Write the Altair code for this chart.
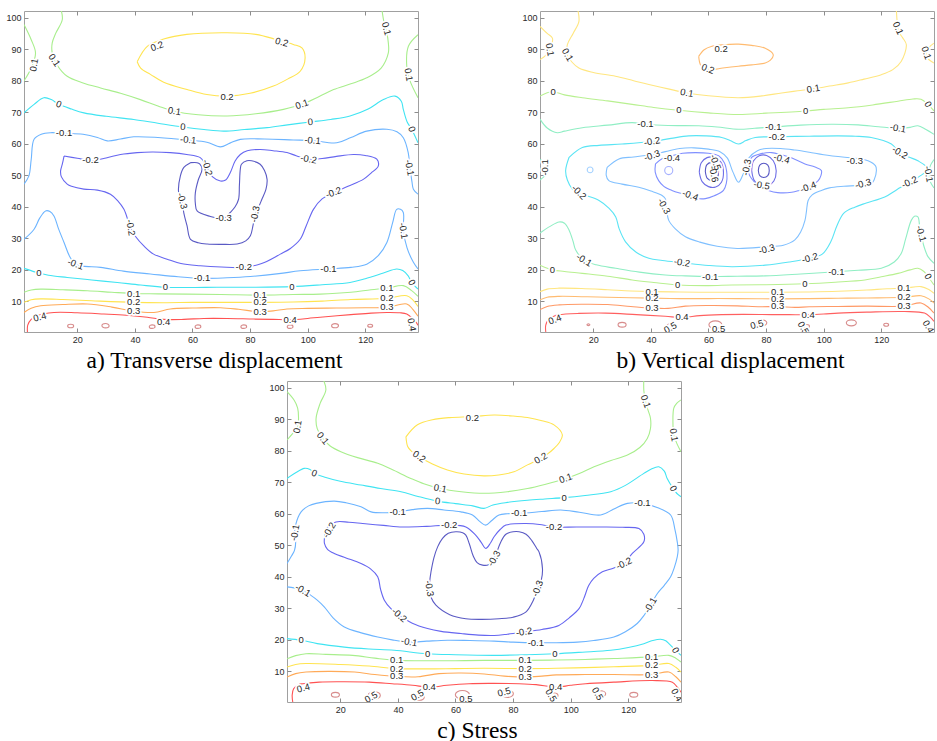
import altair as alt
import pandas as pd

# ---------------- axes / captions ----------------
X_TICKS = [20, 40, 60, 80, 100, 120]
Y_TICKS = [10, 20, 30, 40, 50, 60, 70, 80, 90, 100]
X_DOMAIN = [1.5, 138.3]
Y_DOMAIN = [0.3, 102.1]
LEVELS = ["-0.6", "-0.5", "-0.4", "-0.3", "-0.2", "-0.1", "0", "0.1", "0.2", "0.3", "0.4", "0.5"]
CAPTION_A = "a) Transverse displacement"
CAPTION_B = "b) Vertical displacement"
CAPTION_C = "c) Stress"

# ---------------- panel a: transverse displacement ----------------
a_c02 = [(40.8,86),(44.3,90.9),(50,93.2),(58,94.7),(72,95.2),(82,94.7),(89.3,93),(95,91.5),(98,90.4),(99.1,87.2),(97.4,83),(93,80.5),(88.1,78.3),(80,76),(72,75.1),(65,75.6),(58.1,77.2),(50,79.5),(45.4,82),(42,84),(40.8,86)]
a_c01_l = [(1.5,97.8),(4,93),(5.5,88.8),(4,84),(1.5,79.9)]
a_c01_m = [(14.2,103),(14.8,99.4),(12.5,95),(11.3,92),(11.3,88.8),(13,85),(16.5,81.4),(22,79.3),(28.1,77.7),(35,76),(41.9,74),(48,72),(53.7,70.3),(62,69.2),(72,68.8),(82,69.5),(91.6,70.9),(98,72.5),(104,75),(109,77.2),(115,79),(120.5,80.9),(125.5,84),(128,88.8),(128,92),(127.5,95.1),(126.5,98.5),(125.7,103)]
a_c01_r = [(138.3,94.6),(135,91),(134.4,84.6),(135.5,80),(138.3,74.6)]
a_c0_t = [(1.5,69.8),(5,72.5),(8.4,74.6),(11,74),(13.6,72.5),(18,71),(22.3,69.8),(30,68.7),(39.6,67.7),(48,66.5),(56.7,65.3),(64,64.5),(70.8,64),(78,64.5),(85.9,65.1),(93,66),(100.9,66.9),(108,67.7),(114.7,68.8),(121,71),(126.3,74),(130.3,75.1),(132.5,73.5),(133.2,70.9),(134.5,67),(136.1,64.6),(138.3,60.3)]
a_c0_b = [(1.5,20.5),(6.7,19),(10,18.3),(16.5,17.6),(25,16.8),(33.9,16),(42,15.2),(50.6,14.5),(60,14.4),(68.5,14.5),(80,14.5),(94.5,14.7),(105,15.3),(114.7,16),(120,17.2),(126.3,19),(130.9,20.3),(133,19.8),(134.9,18.1),(136.1,16),(138.3,13.9)]
a_cm01_t = [(1.5,47.2),(3.2,49.8),(4,55),(5,61.4),(7.5,63),(10.7,63.5),(15.4,63.3),(22,63),(27,62),(30.4,60.9),(35,61.5),(39.6,62.2),(48,62),(58.5,61.2),(65,60.5),(69.7,59),(73,60.2),(76.6,61.4),(85,61.5),(95,61.2),(101.7,61),(110.1,60.3),(115,62),(120.5,64),(127.5,64.6),(131,63.8),(133.2,61.9),(134.9,57.2),(135.5,52.4),(136.2,48),(136.7,45.6),(138.3,44)]
a_cm01_b = [(1.5,29.7),(5,32.9),(7,36.5),(9,38.7),(10.5,38.5),(11.9,37.1),(13.5,33),(15.4,28.7),(17.5,24),(19.4,21.8),(22,21.2),(28.1,20.8),(36,19.6),(45.4,18.7),(55,17.8),(63.3,17.3),(72,17.5),(80.1,17.9),(90,18.8),(97.4,19.7),(107.2,20.3),(115,20.8),(120.5,21.8),(124.5,24.5),(127.5,28.7),(129.5,35),(130.9,39.2),(132.2,39.2),(133.2,38.2),(133.2,32.4),(134.5,27),(136.7,22.4),(138.3,20.3)]
a_cm02 = [(15.4,56.1),(20,55.4),(24.6,54.7),(30,55.5),(35,56.6),(40.8,57.2),(46,57.4),(52.3,57.2),(58,56.6),(62.7,55.6),(64.5,53.5),(65.1,52.4),(67,49.5),(69.7,48.2),(71.5,48.5),(73.1,50.8),(74.8,54.5),(76.6,56.6),(79,57.8),(83.5,58.2),(88,57.8),(92.8,57.2),(96,56.2),(100.3,55.1),(105,55.3),(110,56),(115.9,56.6),(120,56.3),(124,55.1),(124.5,52.9),(122,50.7),(119.3,48.7),(114,46.5),(109,44.5),(105,42.5),(102,39.2),(99.5,34),(97.4,29.7),(94,26.8),(90.5,25),(84,22),(77.8,20.8),(70,20.9),(62.7,21.3),(56,22),(51.2,23.4),(46.5,25),(43.1,27.6),(40.3,30.5),(38.5,33.4),(36.2,39.2),(34,42),(31.5,44),(27,45.3),(22.3,45.6),(18,46.5),(16.5,47.2),(14.5,49.5),(14.2,51.4),(14.8,53.5),(15.4,56.1)]
a_cm03 = [(59.3,54),(57,52.5),(55.8,49.8),(55.2,44.5),(56.4,41.9),(57,38),(58.1,34),(59.3,29.7),(62,28.6),(65.1,28.2),(70,28.1),(75.5,28.2),(78.5,29.2),(80.1,30.8),(81,34),(81.8,37.7),(83,40),(84.1,42.4),(85.5,45.5),(85.9,48.7),(85,51.5),(83.5,53.5),(80.5,54.6),(78.9,54.6),(77,53.5),(76.6,51.9),(76.3,47),(76,42.4),(74.8,40),(73.1,38.2),(70.8,36.3),(66,37),(61.6,38.7),(61,41),(61,44.5),(62,48.5),(63.3,51.9),(62.5,53.6),(61.6,54),(59.3,54)]
a_p01 = [(1.5,12.9),(4,13.6),(7.3,13.9),(15,13.7),(23.5,13.4),(32,12.9),(39.6,12.5),(48,12.4),(58.1,12.3),(70,12.2),(83.5,12),(95,12.2),(104.3,12.3),(115,12.9),(122,13.7),(127.5,14.2),(133.2,15),(136,13.5),(138.3,11.6)]
a_p02 = [(1.5,9.7),(4,10.5),(7.3,10.8),(15,10.6),(25,10.2),(39.6,9.7),(50,9.6),(60,9.7),(70,9.7),(83.5,9.7),(95,9.8),(105,10.1),(115,10.6),(127.5,11),(134.4,11.8),(136.5,10.5),(138.3,8.4)]
a_p03 = [(1.5,6.5),(4,7.8),(7.3,8.6),(15,9),(23.5,9.2),(32,8.2),(39.6,6.9),(46.6,6.5),(52.3,7.6),(60,7.9),(69.7,8),(76,7.5),(83.5,6.7),(88,7),(92.8,7.6),(100,7.8),(110,7.9),(120,8),(127.5,8.1),(134.4,9.2),(136.5,7.5),(138.3,5.3)]
a_p04 = [(2.7,0.3),(2.8,2.5),(4,4.3),(6.1,5.5),(11.9,6.5),(20,6.4),(29.2,6),(37,5.6),(44.3,5),(50,4.3),(57,4.3),(63.9,4.6),(72,4.6),(81.2,4.4),(88,4.3),(93.9,4.2),(100,4.6),(104.3,5),(115,5.8),(122,6.3),(127.5,6.5),(132,6.4),(134.4,6),(136.5,4.5),(137.8,3.2),(138.3,2.4)]
A_CONTOURS = [("0.2", a_c02), ("0.1", a_c01_l), ("0.1", a_c01_m), ("0.1", a_c01_r),
              ("0", a_c0_t), ("0", a_c0_b), ("-0.1", a_cm01_t), ("-0.1", a_cm01_b),
              ("-0.2", a_cm02), ("-0.3", a_cm03),
              ("0.1", a_p01), ("0.2", a_p02), ("0.3", a_p03), ("0.4", a_p04)]
A_LOOP_X = [17.7, 29.8, 46, 61.9, 77.8, 93.9, 109.5, 121.7]
A_LOOP_Y = [2.2, 2.3, 2.0, 2.0, 2.0, 2.0, 2.3, 2.3]
A_LOOP_W = [2.1, 2.5, 2.0, 2.0, 2.0, 2.0, 2.4, 1.7]
A_LABELS = [("0.2",47.7,90.9,340),("0.2",91,92.2,15),("0.2",72,74.7,0),
            ("0.1",5,85,280),("0.1",12,86.5,55),("0.1",53.7,70.3,8),("0.1",98,72.5,340),("0.1",127.3,96.5,75),("0.1",135,81.9,80),
            ("0",13.6,72.5,20),("0",56.7,65.3,5),("0",100.9,66.9,355),("0",136.1,64.6,70),
            ("-0.1",15.4,63.3,0),("-0.1",58.5,61.2,5),("-0.1",101.7,61,5),("-0.1",135.3,52.4,80),
            ("-0.2",24.6,54.7,0),("-0.2",65.1,52.4,75),("-0.2",100.3,55.1,10),("-0.2",109,44.5,340),("-0.2",38.5,33.4,80),("-0.2",77.8,20.8,0),
            ("-0.3",56.4,41.9,75),("-0.3",70.8,36.3,0),("-0.3",81.8,37.7,280),
            ("-0.1",19.4,21.8,20),("-0.1",63.3,17.3,0),("-0.1",107.2,20.3,0),("-0.1",133.2,32.4,80),
            ("0",6.7,19,0),("0",50.6,14.5,0),("0",94.5,14.7,0),("0",136.1,16,60),
            ("0.1",39.6,12.5,0),("0.1",83.5,12,0),("0.1",127.5,14.2,0),
            ("0.2",39.6,9.7,0),("0.2",83.5,9.7,0),("0.2",127.5,11,0),
            ("0.3",39.6,6.9,0),("0.3",83.5,6.7,0),("0.3",127.5,8.1,0),
            ("0.4",7,5,345),("0.4",50,3.4,0),("0.4",93.9,4.2,0),("0.4",136.1,2.6,80)]

# ---------------- panel b: vertical displacement ----------------
b_c02 = [(56.6,87.7),(58.5,89.8),(61.2,90.9),(65,91.4),(70.4,91.6),(75,91.2),(79.7,90.3),(82.5,88.2),(81.5,86.5),(79.7,85.6),(75,85),(70.4,84.6),(65,84),(61.2,83.5),(58.5,84),(57.2,85.1),(56.6,87.7)]
b_c01_l = [(1.5,97.2),(4,95),(5.8,93.5),(5.5,91),(4.9,89.8),(3.5,88),(1.5,86.7)]
b_c01_m = [(14.5,103),(15,98.7),(13,95),(11,91.4),(11,88.2),(12.5,86),(15,84),(20,82.6),(27.7,81.4),(34,80),(39.3,78.8),(46,77.4),(52.5,76.1),(60,75.2),(70.4,74.6),(78,75.1),(85.4,76.1),(91,76.8),(96.4,77.4),(102,78.3),(108.5,79.3),(114,80.5),(120,81.9),(124,83.5),(126.9,86.1),(128.7,91.4),(127.5,93.5),(126.4,95),(125.8,96.6),(125.2,103)]
b_c01_r = [(138.3,91.9),(136.5,90.5),(135.6,88.8),(136.2,87),(138.3,85.6)]
b_c0_t = [(1.5,75.1),(4,76.2),(6.1,76.5),(10,75.5),(16.2,74.6),(25,73.6),(33.5,72.5),(41,71.5),(49.7,70.6),(60,69.8),(70.4,69.3),(80,69.7),(93.7,70.4),(100,70.9),(108.5,71.4),(117,72.3),(125.8,73.5),(131,74.2),(133.8,74.1),(136.2,72.5),(138.3,70.4)]
b_c0_b = [(1.5,21.5),(5.8,20),(10,19.5),(16.2,18.9),(25,18),(33.5,16.8),(41,16),(49.3,15.2),(60,15),(68.1,15.2),(80,15.3),(93.5,15.6),(104,16.1),(114.3,16.8),(120,17.8),(125.8,18.9),(130,20),(132.7,20.5),(134.8,19.5),(136.2,17.9),(138.3,15.2)]
b_cm01_t = [(1.5,67.8),(4,65),(7.5,63.5),(10,64),(16.2,65.1),(25,65.9),(33.5,66.7),(38.1,66.2),(46,65.8),(56.6,65.7),(63,65.3),(70.4,64.6),(76,64.9),(82.5,65.3),(92,65.9),(102.7,66.2),(112,66),(119,65.4),(125.8,64.9),(130,65.2),(132.7,65.7),(135.5,64.5),(138.3,63)]
b_cm01_l = [(1.5,55),(3.2,54),(4,52.5),(3.8,50.5),(2.8,49.5),(1.5,48.5)]
b_cm01_r = [(138.3,55),(137,53),(136.5,50.4),(137,48),(138.3,46)]
b_cm01_b = [(1.5,31.7),(5,33.8),(8.1,35.2),(10,34.8),(11.6,32.6),(13,29),(13.9,26.3),(16.8,23.1),(21,21.6),(27.8,20.5),(36,19.3),(45,18.4),(52,18.1),(60.6,17.9),(70,18),(79.7,18.1),(92,18.7),(104.4,19.4),(112,19.9),(120,20.5),(124.5,22.5),(126.9,25.2),(128.5,30),(130.4,35.7),(131.5,37),(132.7,36.8),(133.3,34),(133.8,31.5),(134.8,27.5),(136.2,24.2),(138.3,22.1)]
b_cm02 = [(11.6,55.7),(16.2,58.8),(22,59.5),(30,59.9),(40.4,60.7),(47,61.7),(53.1,62.5),(59,62.5),(64.6,62),(67.5,61),(70.4,59.9),(73,61),(76.2,62),(83.7,62.2),(95,62.4),(105,62.5),(111,62.4),(116.5,62),(123.5,59.9),(126.4,57.2),(129.5,55.8),(132.7,54.6),(136.2,52),(133,49.5),(129.8,47.8),(125.5,45.5),(121.2,43.1),(114.8,41.2),(110.8,39.9),(107,38),(104.6,34),(102.5,29),(99.5,25),(95.2,23.7),(88,22.5),(79.7,21.5),(68.1,21),(60,21.4),(50.8,22.3),(44,23),(39.3,23.7),(35,25.5),(31.2,28.9),(29,33),(27.8,36.8),(25.5,39.5),(22,42),(18,43.4),(15.1,44.1),(12.7,45.7),(11,48.5),(10.4,51.5),(11.6,55.7)]
b_cm03 = [(24.8,52.5),(28.9,55.2),(34,55.8),(40,56.5),(45,57.5),(50,58.5),(55,58.7),(60,58.3),(64,57.5),(66.5,55.5),(68.5,51),(70.4,47.8),(72.3,51),(74,55.5),(77,57.8),(80,58.5),(85,58.5),(90,58),(95,57.3),(100,56.5),(107.3,55.7),(112,55.3),(115.4,54.6),(118,53),(118.3,51.5),(117.5,48.5),(116.5,47.3),(112,46.8),(107,46.5),(102,46),(99.2,45.2),(96,43.8),(94.6,42),(94,38.5),(93.5,35.7),(92,32),(90,29.5),(86,27.8),(79.7,27.3),(70,26.8),(63,27.5),(57,28.8),(52,30.5),(48.5,33),(46.2,35.7),(45.5,39),(45,42.6),(43.9,43.6),(40,45),(35.8,46.2),(30,47.2),(25.4,48.3),(24.5,50),(24.8,52.5)]
b_cm04_l = [(41.6,53.6),(44,55.3),(47.3,56.2),(51,57),(55.4,57.2),(60,57),(63.5,56.2),(65.5,54),(66.4,50.4),(66.2,47.5),(65.2,45.2),(62,43.5),(58.9,42.6),(56,42.7),(53.7,43.6),(50,44.4),(47.3,45.2),(44.5,46.5),(42.7,48.3),(41.5,51),(41.6,53.6)]
b_cm04_r = [(73.9,52.5),(75,55.7),(78,56.8),(81.9,57.2),(85.4,56.5),(89,55.5),(93.5,53.6),(97,52.6),(99.2,51.5),(99,49.8),(98.1,48.3),(96,46.9),(94.6,46.2),(91.5,45.2),(88.9,44.6),(84,44.5),(80.8,45.2),(77.5,46.5),(75,48.9),(74,50.5),(73.9,52.5)]
b_cm05_l = [(56.8,51),(57.5,54),(59.5,55.6),(62,55.7),(64.3,54.2),(65.2,51),(64.5,47.8),(62.5,46.3),(60,46.4),(57.8,48),(56.8,51)]
b_cm06_l = [(58.9,51.2),(59.4,53.3),(61,54.1),(62.8,53.4),(63.5,51.2),(62.9,49),(61.2,48.3),(59.6,49),(58.9,51.2)]
b_cm05_r = [(75,51.5),(75.6,54.5),(77.6,56.2),(80.2,56.3),(82.5,54.6),(83.5,51.5),(82.7,48.2),(80.5,46.6),(77.8,46.6),(75.8,48.5),(75,51.5)]
b_cm06_r = [(77.3,51.5),(77.8,53.2),(79.2,53.8),(80.6,53.2),(81.1,51.5),(80.6,49.9),(79.2,49.3),(77.8,49.9),(77.3,51.5)]
b_p01 = [(1.5,13.1),(4,13.9),(8.1,14.2),(16,14.1),(25,13.7),(33,13.3),(40.4,13.1),(50,13),(60,12.9),(70,12.9),(84,12.9),(95,13),(105,13.2),(115,13.6),(122,14),(127.9,14.2),(133.8,14.7),(136.5,13.8),(138.3,12.6)]
b_p02 = [(1.5,10.5),(4,11.3),(8.1,11.6),(16,11.5),(25,11.3),(40.4,11.05),(50,10.9),(60,10.9),(70,10.9),(84,10.8),(95,10.9),(105,11),(115,11.1),(127.9,11.3),(133.8,11.8),(136.5,10.8),(138.3,9.5)]
b_p03 = [(1.5,7.4),(4,8.4),(8.1,8.9),(16,9.1),(25,9),(33,8.4),(40.4,7.9),(46,7.8),(52,8.5),(60,8.7),(70,8.6),(78,8.3),(84,8.4),(90,8.1),(95,8.3),(105,8.4),(115,8.5),(127.9,8.5),(133.8,9.5),(136.5,8),(138.3,6.3)]
b_p04 = [(3.5,0.3),(3.5,2.5),(4.5,4.3),(6.5,5.4),(8.1,5.8),(15,6.2),(24.3,6.3),(35,5.8),(45,5.3),(50.8,4.9),(57,5.5),(64.6,5.8),(72,5.9),(81.9,5.8),(88,5.8),(94.6,5.8),(100,6),(105,6.3),(115,6.6),(128.1,6.8),(135,6.3),(137,5),(138.3,3.7)]
B_CONTOURS = [("0.2", b_c02), ("0.1", b_c01_l), ("0.1", b_c01_m), ("0.1", b_c01_r),
              ("0", b_c0_t), ("0", b_c0_b), ("-0.1", b_cm01_t), ("-0.1", b_cm01_l), ("-0.1", b_cm01_r), ("-0.1", b_cm01_b),
              ("-0.2", b_cm02), ("-0.3", b_cm03), ("-0.4", b_cm04_l), ("-0.4", b_cm04_r),
              ("-0.5", b_cm05_l), ("-0.6", b_cm06_l), ("-0.5", b_cm05_r), ("-0.6", b_cm06_r),
              ("0.1", b_p01), ("0.2", b_p02), ("0.3", b_p03), ("0.4", b_p04)]
B_LOOP_X = [18.3, 30, 47.3, 62.4, 78.5, 94, 109.6, 121.7]
B_LOOP_Y = [2.6, 2.6, 2.1, 2.6, 3.2, 2.1, 3.2, 2.6]
B_LOOP_W = [1.0, 2.8, 3.5, 4.5, 3.5, 2.1, 3.5, 1.7]
B_RING_LEVEL = ["-0.3", "-0.4"]
B_RING_X = [18.9, 46.2]
B_RING_Y = [51.7, 51.5]
B_RING_W = [2.0, 2.8]
B_LABELS = [("0.2",64.4,90.1,0),("0.2",59.8,83.7,20),
            ("0.1",4.9,89.8,80),("0.1",11,88.2,60),("0.1",52.5,76.1,10),("0.1",96.4,77.4,350),("0.1",125.8,96.6,65),("0.1",135.6,88.8,70),
            ("0",6.1,76.5,0),("0",49.7,70.6,0),("0",93.7,70.4,0),("0",136.2,72.5,60),
            ("-0.1",38.1,66.2,0),("-0.1",82.5,65.3,0),("-0.1",125.8,64.9,10),("-0.1",3.3,52.5,270),("-0.1",136.4,50.4,80),
            ("-0.2",40.4,60.7,350),("-0.2",83.7,62.2,0),("-0.2",126.4,57.2,30),("-0.2",129.8,47.8,335),("-0.2",15,44.6,45),("-0.2",50.8,22.3,10),("-0.2",95.2,23.7,345),
            ("-0.3",40.4,56.2,340),("-0.3",73.3,52.5,280),("-0.3",110.8,54.6,0),("-0.3",113.7,47.3,345),("-0.3",44.5,40.2,60),("-0.3",80.2,26.5,345),
            ("-0.4",47.3,55.4,0),("-0.4",53.7,43.6,20),("-0.4",85.4,55.2,15),("-0.4",94.6,46.2,340),
            ("-0.5",62.4,54.1,70),("-0.6",61.8,50.4,80),("-0.5",78.5,46.8,10),
            ("-0.1",16.8,23.1,30),("-0.1",60.6,17.9,0),("-0.1",104.4,19.4,0),("-0.1",133.8,31.5,75),
            ("0",5.8,20,0),("0",49.3,15.2,0),("0",93.5,15.6,0),("0",136.2,17.9,60),
            ("0.1",40.4,13.1,0),("0.1",84,12.9,0),("0.1",127.9,14.2,0),
            ("0.2",40.4,11.05,0),("0.2",84,10.8,0),("0.2",127.9,11.3,0),
            ("0.3",40.4,7.9,0),("0.3",84,8.4,0),("0.3",127.9,8.5,0),
            ("0.4",6.7,4.2,340),("0.4",50.8,4.9,0),("0.4",94.6,5.8,0),("0.4",136.3,2.0,60),
            ("0.5",46.8,1.6,330),("0.5",63.5,1.1,0),("0.5",76.8,2.6,345),("0.5",92.9,1.6,60)]

# ---------------- panel c: stress ----------------
c_c02 = [(42.8,84.4),(46.8,88.2),(52,89.8),(58,90.5),(65.9,90.8),(73.4,91.3),(80,91),(85,90.5),(90,89.5),(94.2,88.2),(97.1,85),(96,82.5),(94.2,80.7),(92,79),(89.6,77.6),(85,75.5),(80.3,73.3),(75,72.3),(69.9,72),(63,72.6),(57.2,73.9),(52,75.8),(47.4,78.1),(44.5,80),(43.4,81.3),(42.8,84.4)]
c_c01_l = [(1.5,98.7),(4,96),(5.2,93.5),(5.5,90.5),(5.2,87.6),(3.5,85.5),(1.5,83.4)]
c_c01_m = [(13.9,103),(15,99.3),(13,95),(11.6,90.3),(12,87),(13.9,83.9),(16.5,81.5),(20.2,79.7),(26,77.8),(33,76),(38,74),(44.5,71.2),(49,69.5),(54.7,68),(62,67),(69.9,66.5),(78,67),(85,68),(91,69.3),(98.3,71.2),(103,72.8),(108.1,74.9),(114,76.9),(119.7,78.6),(124,81),(126.6,83.9),(127.7,87),(127.7,90.3),(126.8,93),(126,95.6),(125.4,99),(125.4,103)]
c_c01_r = [(138.3,96.1),(136.8,95),(135.8,93.5),(135.5,89),(135.8,85),(137,82),(138.3,79.7)]
c_c0_t = [(1.5,71.2),(4.5,73),(7.5,74.4),(9.5,74),(11,72.8),(15,71.5),(20,70.3),(27.2,69.1),(34,68),(41.1,67),(47,65.5),(53.8,64),(60,63.2),(66,62.5),(69.9,61.7),(73,62.8),(78,63.6),(85,64.3),(91,64.7),(97.7,65.1),(105,65.8),(113.9,67),(119,69),(125.4,72.8),(128,74.2),(130.6,74.9),(132.5,73.5),(133.5,71.2),(135.6,68),(136.8,66.5),(138.3,65.4)]
c_c0_b = [(1.5,20.4),(6.4,19.9),(12,18.8),(21.4,17.7),(30,17.1),(38.7,16.7),(50.3,15.6),(60,15.3),(73.4,15.1),(85,15.3),(94.5,15.6),(104,16.1),(113.9,16.7),(120,17.6),(125.4,18.8),(128.5,19.8),(131.2,20.2),(133,19.7),(134.1,18.8),(136.4,16.7),(138.3,15.1)]
c_cm01 = [(1.5,44.2),(3,46.5),(4.1,48.4),(4.5,51),(4.1,53.2),(4.5,56.5),(6.4,60.6),(9,62.5),(11.6,63.3),(17.9,64),(22,63.5),(27.2,62.2),(30.7,60.6),(35,60.3),(39.9,60.6),(45,61.3),(50.3,61.7),(56,61.2),(61.9,60.6),(65.9,59.6),(68.5,57.5),(70.5,56.4),(72.5,57.8),(75.1,59.6),(78,60),(82.1,60.1),(90,60.7),(96.5,61.2),(103,60.5),(110.4,59.6),(115,61.5),(119.7,63.3),(124.9,63.3),(130,62),(134.7,59.6),(136.2,55),(137,51.1),(137.3,48.5),(137,46.3),(136,43),(134.7,40),(132.5,37.3),(130.1,34.7),(127.7,31),(125.5,27.8),(123.1,25.2),(119,22.6),(115,20.9),(108,19.8),(102.3,19.3),(95,19.1),(87.9,19.1),(80,19.3),(73.4,19.6),(65,19.8),(57.2,19.9),(50,19.6),(43.9,19.3),(38,20),(33,20.9),(27,22.3),(21.4,24.1),(17.5,27),(14.5,30.4),(12,32.6),(9.8,34.1),(7,35.7),(4,36.5),(1.5,36.8)]
c_cm02 = [(14.5,52.2),(15.5,55.5),(18.5,57.4),(23,57.3),(27.8,56.9),(35,56.3),(41.6,55.8),(50,56),(57.8,56.4),(63.6,55.8),(67,53.2),(68.8,51.1),(70.5,49),(72.2,50.8),(73.4,52.7),(75.5,55),(77.5,56.4),(84.4,56.9),(90,56.5),(94.2,55.8),(102,55.8),(111,55.8),(118,55.7),(123.7,55.3),(125.4,53.5),(125.4,51.1),(121.4,47.4),(118.5,44.2),(115,42.8),(111,41.6),(108,39.5),(106.3,37.3),(104.5,33),(102.9,29.9),(99.5,27),(95.9,24.6),(90,23.3),(83.8,22.5),(78,21.8),(73.4,21.4),(68,21.5),(61.9,22),(55,22.7),(50.3,23.6),(45,25.3),(40.5,27.8),(37.5,30),(35.3,32.6),(34,36),(33,40),(30.5,42.5),(27.2,44.2),(22,46),(17.9,47.4),(15.5,48.8),(14.5,50.6),(14.5,52.2)]
c_cm03 = [(51.5,41.6),(52.5,46),(53.8,49.5),(55.5,52.2),(57.5,53.8),(60.1,54.3),(62.5,54),(63.6,53.2),(64.8,50.5),(66.2,46.5),(67.5,44.5),(69.4,43.7),(71.5,43.8),(72.8,44.8),(74.2,47.5),(75.7,51),(77.5,53.5),(80,54.3),(82.1,54.3),(84.5,53.5),(86.5,51.5),(88.2,49),(89,47.9),(90.2,42.6),(89.8,39),(88.5,36.3),(87,32.5),(84.4,28.8),(80,27.2),(75.1,26.7),(69,26.5),(63.6,26.7),(58,28),(53.2,31),(51.5,33.5),(50.9,36.3),(51.1,39),(51.5,41.6)]
c_p01 = [(1.5,14),(4.5,15),(8.1,15.6),(15,15.4),(24.3,15.1),(32,14.2),(39.6,13.5),(50,13.4),(60,13.4),(70,13.5),(84.2,13.5),(95,13.6),(105,13.8),(115,14.1),(128.1,14.6),(134.1,15.1),(136.5,14.2),(138.3,13)]
c_p02 = [(1.5,11.4),(4.5,12.2),(8.1,12.5),(20,12.2),(30,11.7),(39.6,10.9),(50,10.8),(60,10.9),(70,11),(84.2,10.9),(95,11),(105,11.2),(115,11.5),(128.1,11.9),(134.1,12.5),(136.5,11.3),(138.3,9.8)]
c_p03 = [(1.5,8.2),(4.5,9.3),(8.1,9.8),(16,10),(25,9.8),(32,9),(39.6,8.4),(47,8.3),(54.3,9.3),(62,9.5),(70,9.2),(77,8.5),(84.2,8.2),(90,8.5),(95,8.9),(105,9),(115,9),(128.1,9),(134.1,9.8),(136.5,8.3),(138.3,6.6)]
c_p04 = [(3.5,0.3),(3.3,2.5),(3.8,4.5),(5.5,5.8),(7,6.1),(12.7,6.6),(20,6.7),(30.1,6.6),(38,6.1),(45.1,5.6),(50.9,5),(57,5.6),(64.7,6.1),(72,6.2),(82.1,6.1),(88,5.8),(94.8,5),(100,5.6),(105.2,6.1),(115,6.6),(128.3,7.1),(135.3,6.6),(137,5),(138.3,3.4)]
C_CONTOURS = [("0.2", c_c02), ("0.1", c_c01_l), ("0.1", c_c01_m), ("0.1", c_c01_r),
              ("0", c_c0_t), ("0", c_c0_b), ("-0.1", c_cm01), ("-0.2", c_cm02), ("-0.3", c_cm03),
              ("0.1", c_p01), ("0.2", c_p02), ("0.3", c_p03), ("0.4", c_p04)]
C_LOOP_X = [18.3, 31.8, 47.4, 62.4, 78, 94.2, 110.4, 121.9]
C_LOOP_Y = [2.6, 2.4, 1.8, 2.6, 2.9, 2.4, 2.9, 2.6]
C_LOOP_W = [2.8, 4.2, 3.5, 4.9, 4.2, 2.8, 3.5, 2.8]
C_LABELS = [("0.2",65.9,90.5,0),("0.2",89.6,77.6,330),("0.2",47.4,78.1,35),
            ("0.1",5.2,87.6,280),("0.1",13.9,83.9,50),("0.1",54.7,68,10),("0.1",98.3,71.2,340),("0.1",126,95.6,70),("0.1",135.8,85,80),
            ("0",11,72.8,20),("0",53.8,64,5),("0",97.7,65.1,0),("0",135.6,68,60),
            ("-0.1",39.9,60.6,0),("-0.1",82.1,60.1,0),("-0.1",124.9,63.3,0),("-0.1",4.3,54,280),("-0.1",127.7,31,300),
            ("-0.1",87.9,19.1,0),("-0.1",43.9,19.3,10),("-0.1",7,35.7,30),
            ("-0.2",16.2,54.8,300),("-0.2",57.8,56.4,0),("-0.2",94.2,55.8,0),("-0.2",118.5,44.2,335),("-0.2",83.8,22.5,350),("-0.2",40.5,27.8,40),
            ("-0.3",73.4,45.8,300),("-0.3",88.5,36.3,290),("-0.3",50.9,36.3,80),
            ("0",6.4,19.9,0),("0",50.3,15.6,0),("0",94.5,15.6,0),("0",136.4,16.7,60),
            ("0.1",39.6,13.5,0),("0.1",84.2,13.5,0),("0.1",128.1,14.6,0),
            ("0.2",39.6,10.9,0),("0.2",84.2,10.9,0),("0.2",128.1,11.9,0),
            ("0.3",39.6,8.4,0),("0.3",84.2,8.2,0),("0.3",128.1,9,0),
            ("0.4",7.2,4.7,345),("0.4",50.9,5,0),("0.4",94.8,5,0),("0.4",136.8,2.5,60),
            ("0.5",30.7,1.8,330),("0.5",46.8,2.4,330),("0.5",63.6,1.3,0),("0.5",76.9,3.4,345),("0.5",93.1,2.4,60),("0.5",109.3,2.9,60)]

# ---------------- colours (jet-like) ----------------
COLORS_AC = {"-0.3": "#5a5ac4", "-0.2": "#6666f0", "-0.1": "#6cb4ff", "0": "#40e4f2",
             "0.1": "#a8ee8c", "0.2": "#ffe450", "0.3": "#ffaa58", "0.4": "#ff5252", "0.5": "#c85c5c"}
COLORS_B = {"-0.6": "#5858c4", "-0.5": "#6e6ee6", "-0.4": "#8090ff", "-0.3": "#80c0ff",
            "-0.2": "#5ae4f4", "-0.1": "#90eec4", "0": "#b8f090", "0.1": "#ffe680",
            "0.2": "#ffbb70", "0.3": "#ff9966", "0.4": "#ff6060", "0.5": "#c85c5c"}

ELLIPSE = "M -1 0 A 1 0.6 0 1 0 1 0 A 1 0.6 0 1 0 -1 0 Z"
PX_PER_UNIT = 2.88
SERIF = "Times New Roman, Liberation Serif, Tinos, DejaVu Serif, serif"
SANS = "Arial, Liberation Sans, Helvetica, sans-serif"


def make_panel(contours, loop_x, loop_y, loop_w, labels, colors, caption,
               ring_level=None, ring_x=None, ring_y=None, ring_w=None):
    rows = []
    for cid, (lvl, pts) in enumerate(contours):
        for i, (x, y) in enumerate(pts):
            rows.append({"x": x, "y": y, "level": lvl, "cid": cid, "ord": i})
    df_lines = pd.DataFrame(rows)
    df_loops = pd.DataFrame({"x": loop_x, "y": loop_y, "w": loop_w, "level": ["0.5"] * len(loop_x)})
    df_lab = pd.DataFrame([{"x": x, "y": y, "t": t, "angle": a} for (t, x, y, a) in labels])

    dom = [l for l in LEVELS if l in colors]
    color = alt.Color("level:N", scale=alt.Scale(domain=dom, range=[colors[l] for l in dom]), legend=None)
    size = alt.Size("w:Q", scale=alt.Scale(type="pow", exponent=2, domain=[0, 5],
                                           range=[0, (5 * PX_PER_UNIT) ** 2]), legend=None)
    xs = alt.Scale(domain=X_DOMAIN, nice=False, zero=False)
    ys = alt.Scale(domain=Y_DOMAIN, nice=False, zero=False)
    common = dict(domain=False, grid=False, ticks=True, tickSize=4, offset=-4,
                  tickColor="#8c8c8c", tickWidth=1)
    lab = dict(labelFont=SANS, labelFontSize=9, labelColor="#2a2a2a", labelPadding=3)
    ax_b = alt.Axis(orient="bottom", values=X_TICKS, title=caption, titleFont=SERIF,
                    titleFontSize=23.5, titleFontWeight="normal", titleColor="#000000",
                    titlePadding=4, titleX=190, **lab, **common)
    ax_l = alt.Axis(orient="left", values=Y_TICKS, title=None, **lab, **common)
    ax_t = alt.Axis(orient="top", values=X_TICKS, labels=False, title=None, **common)
    ax_r = alt.Axis(orient="right", values=Y_TICKS, labels=False, title=None, **common)

    lines = alt.Chart(df_lines).mark_line(strokeWidth=1.1, clip=True, interpolate="catmull-rom").encode(
        x=alt.X("x:Q", scale=xs, axis=ax_b),
        y=alt.Y("y:Q", scale=ys, axis=ax_l),
        color=color, detail="cid:N", order="ord:Q")
    loops = alt.Chart(df_loops).mark_point(shape=ELLIPSE, filled=False, strokeWidth=1.1, clip=True).encode(
        x=alt.X("x:Q", scale=xs, axis=ax_t),
        y=alt.Y("y:Q", scale=ys, axis=ax_r),
        color=color, size=size)
    layers = [lines, loops]
    if ring_x:
        df_ring = pd.DataFrame({"x": ring_x, "y": ring_y, "w": ring_w, "level": ring_level})
        rings = alt.Chart(df_ring).mark_point(shape="circle", filled=False, strokeWidth=1.1, clip=True).encode(
            x=alt.X("x:Q", scale=xs, axis=None), y=alt.Y("y:Q", scale=ys, axis=None),
            color=color, size=size)
        layers.append(rings)
    halo = alt.Chart(df_lab).mark_text(font=SANS, fontSize=9.5, color="white",
                                       stroke="white", strokeWidth=3.5, strokeJoin="round", clip=True).encode(
        x=alt.X("x:Q", scale=xs, axis=None), y=alt.Y("y:Q", scale=ys, axis=None),
        text="t:N", angle=alt.Angle("angle:Q", scale=None))
    text = alt.Chart(df_lab).mark_text(font=SANS, fontSize=9.5, color="#262626", clip=True).encode(
        x=alt.X("x:Q", scale=xs, axis=None), y=alt.Y("y:Q", scale=ys, axis=None),
        text="t:N", angle=alt.Angle("angle:Q", scale=None))
    layers += [halo, text]
    return (alt.layer(*layers)
            .resolve_axis(x="independent", y="independent")
            .properties(width=394, height=321))


pa = make_panel(A_CONTOURS, A_LOOP_X, A_LOOP_Y, A_LOOP_W, A_LABELS, COLORS_AC, CAPTION_A)
pb = make_panel(B_CONTOURS, B_LOOP_X, B_LOOP_Y, B_LOOP_W, B_LABELS, COLORS_B, CAPTION_B,
                B_RING_LEVEL, B_RING_X, B_RING_Y, B_RING_W)
pc = make_panel(C_CONTOURS, C_LOOP_X, C_LOOP_Y, C_LOOP_W, C_LABELS, COLORS_AC, CAPTION_C)

spacer = alt.Chart(pd.DataFrame({"x": [0]})).mark_point(opacity=0).encode(
    x=alt.X("x:Q", axis=None), y=alt.Y("x:Q", axis=None)
).properties(width=234, height=10, view=alt.ViewBackground(strokeOpacity=0))

row1 = alt.hconcat(pa, pb, spacing=102).resolve_scale(color="independent")
row2 = alt.hconcat(spacer, pc, spacing=10).resolve_scale(color="independent")
chart = alt.vconcat(row1, row2, spacing=8).resolve_scale(color="independent").properties(
    padding={"left": 5, "top": 10, "right": 0, "bottom": 0}, background="white"
).configure_view(stroke="#a0a0a0", strokeWidth=1)

chart.save("out.html", embed_options={"renderer": "svg", "actions": False})
